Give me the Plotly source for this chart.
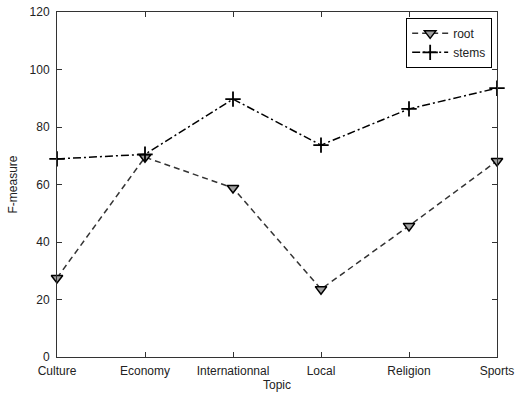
import plotly.graph_objects as go

topics = ["Culture", "Economy", "Internationnal", "Local", "Religion", "Sports"]
root = [27.5, 69.5, 58.8, 23.6, 45.6, 68.2]
stems = [68.9, 70.5, 89.7, 73.7, 86.3, 93.5]
yticks = [0, 20, 40, 60, 80, 100, 120]

fig = go.Figure()
fig.add_trace(go.Scatter(
    x=topics, y=root, name="root", mode="lines+markers",
    line=dict(color="#333333", width=1.5, dash="6px,4px"),
    marker=dict(symbol="triangle-down", size=10, color="#a0a0a0",
                line=dict(color="black", width=1.5)),
    cliponaxis=False,
))
fig.add_trace(go.Scatter(
    x=topics, y=stems, name="stems", mode="lines+markers",
    line=dict(color="black", width=1.5, dash="8px,3px,2px,3px"),
    marker=dict(symbol="cross-thin", size=11, color="black",
                line=dict(color="black", width=1.8)),
    cliponaxis=False,
))

axis_common = dict(
    showline=True, linecolor="#333333", linewidth=1, mirror="ticks",
    ticks="inside", ticklen=5, tickcolor="#333333", showgrid=False,
    zeroline=False, automargin=False,
    tickfont=dict(family="Arial", size=12, color="#222"),
)
fig.update_layout(
    width=515, height=393,
    margin=dict(l=57, r=18, t=12, b=36, autoexpand=False),
    paper_bgcolor="white", plot_bgcolor="white",
    font=dict(family="Arial", size=12, color="#222"),
    xaxis=dict(range=[0, 5], ticklabelstandoff=3,
               title=dict(text="Topic", standoff=0,
                          font=dict(family="Arial", size=12, color="#222")),
               **axis_common),
    yaxis=dict(range=[0, 120], tickvals=yticks, ticklabelstandoff=4, **axis_common),
    legend=dict(x=0.989, y=0.983, xanchor="right", yanchor="top",
                bordercolor="black", borderwidth=1, bgcolor="white",
                font=dict(family="Arial", size=12), tracegroupgap=0,
                itemwidth=36),
    showlegend=True,
    annotations=[dict(text="F-measure", xref="paper", yref="paper",
                      x=-45/440, y=0.5, xanchor="center", yanchor="middle",
                      textangle=-90, showarrow=False,
                      font=dict(family="Arial", size=12, color="#222"))],
)
fig.write_html("out.html", config={"displayModeBar": False},
               post_script="document.body.style.margin='0';document.body.style.overflow='hidden';")
